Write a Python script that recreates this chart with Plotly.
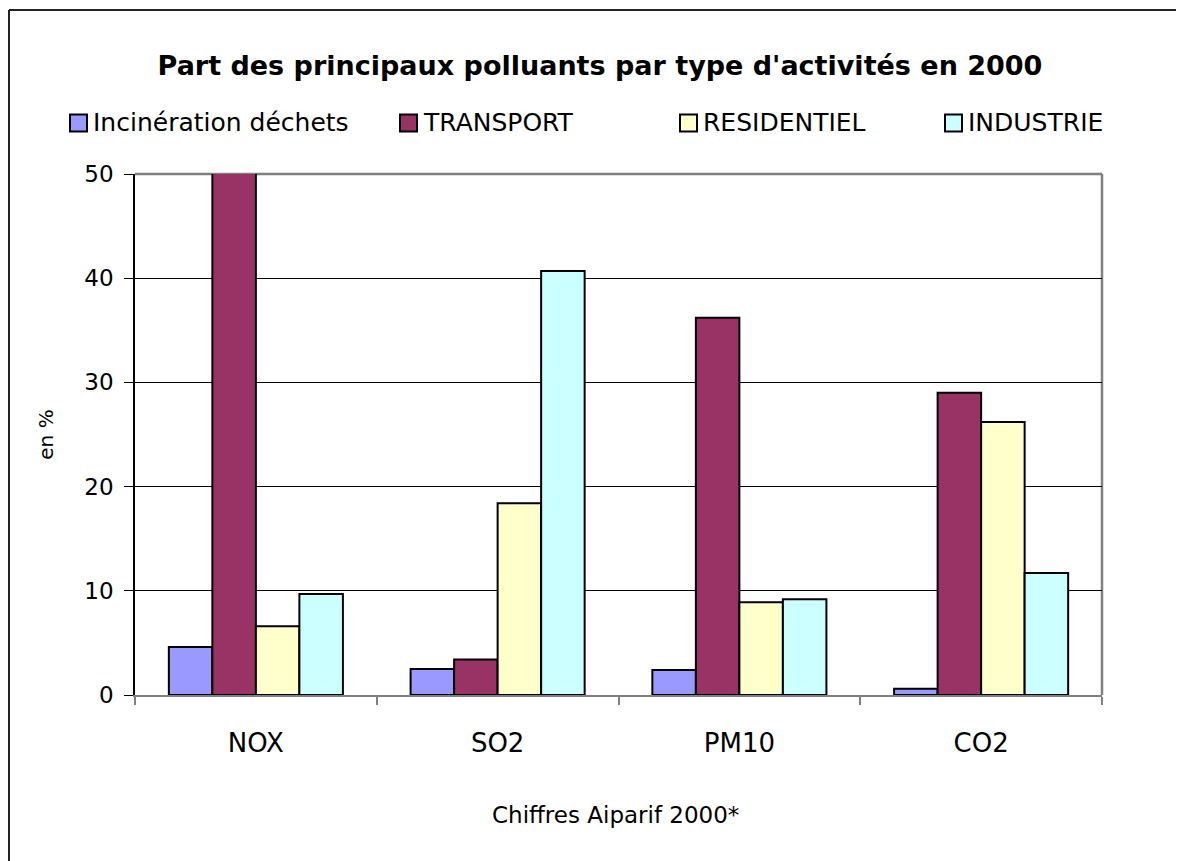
import plotly.graph_objects as go

categories = ["NOX", "SO2", "PM10", "CO2"]
series_names = ["Incinération déchets", "TRANSPORT", "RESIDENTIEL", "INDUSTRIE"]
incineration = [4.6, 2.5, 2.4, 0.6]
transport = [52.0, 3.4, 36.2, 29.0]
residentiel = [6.6, 18.4, 8.9, 26.2]
industrie = [9.7, 40.7, 9.2, 11.7]
colors = ["#9999FF", "#993366", "#FFFFCC", "#CCFFFF"]
y_ticks = [0, 10, 20, 30, 40, 50]

FONT = "DejaVu Sans"
W, H = 1184, 861
OFF = 8  # page body margin
L, R, T, B = 127, 90, 166, 174
PW, PH = W - L - R, H - T - B


def px(x):
    """screen pixel x -> paper x"""
    return (x - OFF - L) / PW


def py(y):
    """screen pixel y -> paper y"""
    return (H - B - (y - OFF)) / PH


fig = go.Figure()
for name, vals, col in zip(series_names, [incineration, transport, residentiel, industrie], colors):
    fig.add_trace(go.Bar(
        x=categories, y=vals, name=name, showlegend=False,
        marker=dict(color=col, line=dict(color="black", width=2)),
    ))

# custom legend (screen pixels): box left edges
legend_x = [70, 400, 680, 945]
legend_y = 123
box = 17

shapes = [
    dict(type="line", xref="paper", yref="paper", x0=0, x1=1, y0=1, y1=1,
         line=dict(color="#808080", width=2.5), layer="between"),
    dict(type="line", xref="paper", yref="paper", x0=1, x1=1, y0=0, y1=1,
         line=dict(color="#808080", width=2.5), layer="between"),
    dict(type="line", xref="paper", yref="paper", x0=px(9), x1=px(1200), y0=py(10), y1=py(10),
         line=dict(color="#222222", width=2)),
    dict(type="line", xref="paper", yref="paper", x0=px(9), x1=px(9), y0=py(10), y1=py(880),
         line=dict(color="#222222", width=2)),
]
annotations = [
    dict(text="Chiffres Aiparif 2000*", xref="paper", yref="paper", x=px(615), y=py(815),
         xanchor="center", yanchor="middle", showarrow=False, font=dict(size=23)),
]
for name, col, lx in zip(series_names, colors, legend_x):
    shapes.append(dict(type="rect", xref="paper", yref="paper",
                       x0=px(lx), x1=px(lx + box), y0=py(legend_y + box / 2), y1=py(legend_y - box / 2),
                       fillcolor=col, line=dict(color="black", width=2)))
    annotations.append(dict(text=name, xref="paper", yref="paper", x=px(lx + box + 4), y=py(legend_y),
                            xanchor="left", yanchor="middle", showarrow=False,
                            font=dict(size=25)))

fig.update_layout(
    width=W, height=H,
    margin=dict(l=L, r=R, t=T, b=B, autoexpand=False),
    paper_bgcolor="white", plot_bgcolor="white",
    barmode="group", bargap=0.28, bargroupgap=0,
    font=dict(family=FONT, color="black", size=21),
    title=dict(text="<b>Part des principaux polluants par type d'activités en 2000</b>",
               x=0.5, xanchor="center", y=1 - (66 - OFF) / H, yanchor="middle",
               font=dict(family=FONT, size=27, color="black")),
    showlegend=False,
    xaxis=dict(showline=True, linecolor="#808080", linewidth=2,
               ticks="outside", tickson="boundaries", ticklen=8, tickcolor="#808080",
               tickwidth=1.5, ticklabelstandoff=24, tickfont=dict(size=26),
               showgrid=False),
    yaxis=dict(range=[0, 50], tickvals=y_ticks, showline=True, linecolor="black",
               linewidth=1.5, ticks="outside", ticklen=9, tickcolor="black",
               showgrid=True, gridcolor="black", gridwidth=1, ticklabelstandoff=6,
               title=dict(text="en %", font=dict(size=20), standoff=25),
               tickfont=dict(size=23), zeroline=False),
    shapes=shapes,
    annotations=annotations,
)

fig.write_html("out.html")
